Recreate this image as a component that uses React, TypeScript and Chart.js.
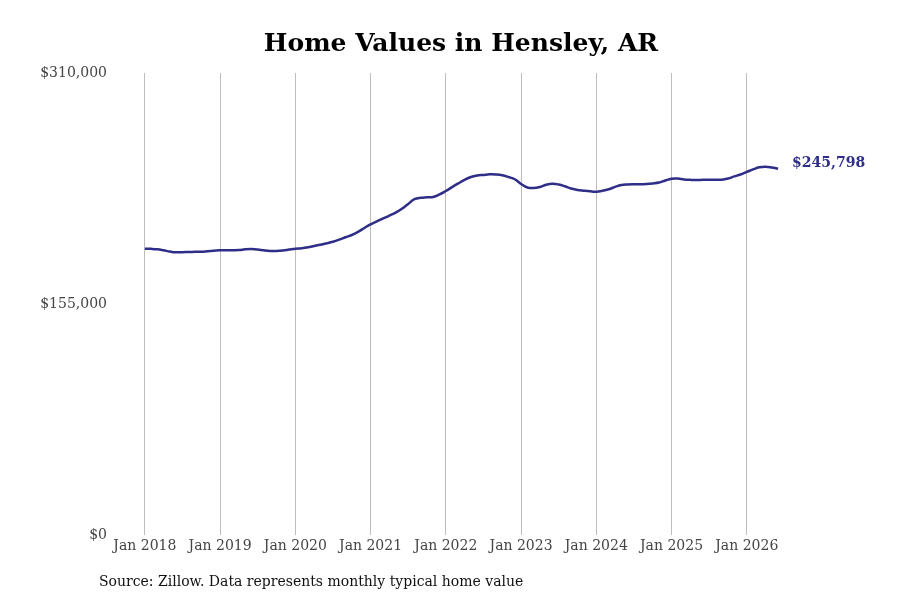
import React, { useRef, useEffect } from 'react';
import { Chart, registerables } from 'chart.js';

Chart.register(...registerables);

// monthly typical home value, Jan 2018 .. Jun 2026
const homeValues: number[] = [
  192100, 192000, 191700, 191000, 190200, 189700, 189800, 189900, 190000, 190100, 190400, 190700,
  191000, 191100, 191100, 191200, 191700, 191900, 191600, 191000, 190600, 190600, 190900, 191500,
  192100, 192400, 193100, 193900, 194700, 195700, 196800, 198200, 199800, 201300, 203400, 206000,
  208500, 210400, 212400, 214300, 216300, 218900, 222100, 225300, 226300, 226600, 226800, 228500,
  230800, 233400, 235900, 238300, 240200, 241200, 241600, 242000, 241900, 241400, 240200, 238700,
  235500, 233200, 232800, 233500, 235000, 235700, 235200, 234000, 232500, 231500, 231000, 230600,
  230400, 231000, 232000, 233600, 234850, 235200, 235300, 235300, 235500, 235900, 236500, 237900,
  239100, 239200, 238500, 238300, 238200, 238300, 238300, 238300, 238400, 239200, 240600, 241900,
  243600, 245300, 246700, 247100, 246600, 245798,
];

const yearTickIndex: number[] = [0, 12, 24, 36, 48, 60, 72, 84, 96];
const yearTickLabels: string[] = [
  'Jan 2018', 'Jan 2019', 'Jan 2020', 'Jan 2021', 'Jan 2022',
  'Jan 2023', 'Jan 2024', 'Jan 2025', 'Jan 2026',
];
const valueTicks: number[] = [0, 155000, 310000];

const titleText = 'Home Values in Hensley, AR';
const sourceText = 'Source: Zillow. Data represents monthly typical home value';

const LINE_COLOR = '#2e2d88';
const FONT = '"DejaVu Serif", serif';

const fmtMoney = (v: number) => '$' + Math.round(v).toLocaleString('en-US');

const textPlugin = {
  id: 'textPlugin',
  afterDraw(chart: any) {
    const ctx = chart.ctx as CanvasRenderingContext2D;
    ctx.save();
    ctx.fillStyle = '#000';
    ctx.font = `bold 25px ${FONT}`;
    ctx.textAlign = 'center';
    ctx.textBaseline = 'middle';
    ctx.fillText(titleText, 461, 44);

    ctx.font = `14px ${FONT}`;
    ctx.textAlign = 'left';
    ctx.fillStyle = '#111';
    ctx.fillText(sourceText, 99, 582);

    // end-of-line value label
    const meta = chart.getDatasetMeta(0);
    const last = meta.data[meta.data.length - 1];
    if (last) {
      ctx.font = `bold 14px ${FONT}`;
      ctx.fillStyle = LINE_COLOR;
      ctx.fillText(fmtMoney(homeValues[homeValues.length - 1]), last.x + 14, last.y - 5);
    }
    ctx.restore();
  },
};

const HomeValueChart: React.FC = () => {
  const canvasRef = useRef<HTMLCanvasElement>(null);

  useEffect(() => {
    if (!canvasRef.current) return;
    const chart = new Chart(canvasRef.current, {
      type: 'line',
      data: {
        datasets: [
          {
            label: 'Home value',
            data: homeValues.map((v, i) => ({ x: i, y: v })),
            borderColor: LINE_COLOR,
            borderWidth: 2.5,
            pointRadius: 0,
            tension: 0.4,
            fill: false,
          },
        ],
      },
      options: {
        responsive: true,
        maintainAspectRatio: false,
        animation: false,
        layout: { padding: { top: 73, right: 78, bottom: 35, left: 0 } },
        plugins: {
          legend: { display: false },
          tooltip: { enabled: false },
          title: { display: false },
        },
        scales: {
          x: {
            type: 'linear',
            min: -4.76,
            max: 108,
            afterFit: (scale: any) => { scale.height = 30; },
            afterBuildTicks: (scale: any) => {
              scale.ticks = yearTickIndex.map(v => ({ value: v }));
            },
            ticks: {
              autoSkip: false,
              maxRotation: 0,
              padding: 3,
              color: '#444',
              font: { family: FONT, size: 14 },
              callback: (v: any) => {
                const k = yearTickIndex.indexOf(Number(v));
                return k >= 0 ? yearTickLabels[k] : '';
              },
            },
            grid: { color: '#bdbdbd', lineWidth: 1, drawTicks: false },
            border: { display: false },
          },
          y: {
            min: 0,
            max: 310000,
            afterFit: (scale: any) => { scale.width = 115; },
            afterBuildTicks: (scale: any) => {
              scale.ticks = valueTicks.map(v => ({ value: v }));
            },
            ticks: {
              padding: 8,
              color: '#444',
              font: { family: FONT, size: 14 },
              callback: (v: any) => fmtMoney(Number(v)),
            },
            grid: { display: false, drawTicks: false },
            border: { display: false },
          },
        },
      },
      plugins: [textPlugin],
    });
    return () => chart.destroy();
  }, []);

  return (
    <div style={{ position: 'fixed', left: 0, top: 0, width: 900, height: 600, background: '#fff' }}>
      <canvas ref={canvasRef}></canvas>
    </div>
  );
};

export default function App() {
  return <HomeValueChart />;
}
